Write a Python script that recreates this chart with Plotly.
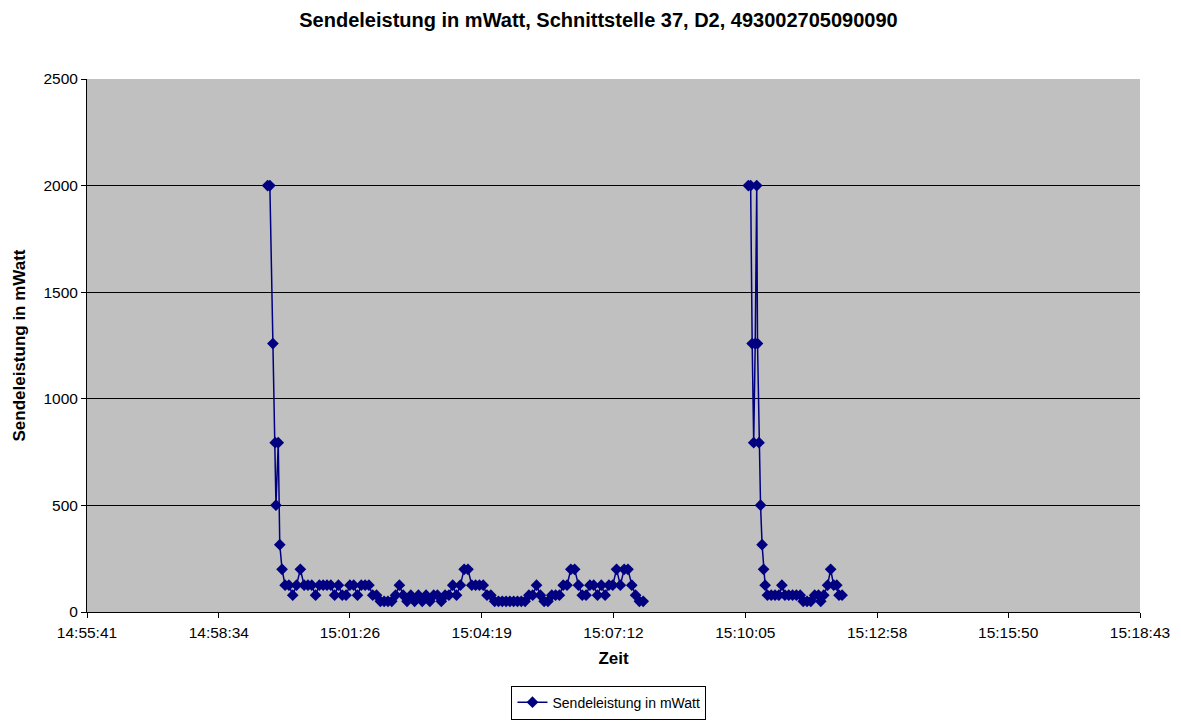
import plotly.graph_objects as go

# Messdatum (nur Uhrzeit relevant)
TAG = "2009-01-01 "

# Verbindung 1
zeit_1 = [
    "14:59:38", "14:59:41", "14:59:45", "14:59:48", "14:59:49", "14:59:52", "14:59:54", "14:59:57",
    "15:00:01", "15:00:06", "15:00:11", "15:00:16", "15:00:21", "15:00:26", "15:00:31", "15:00:36", "15:00:41", "15:00:46", "15:00:51", "15:00:56",
    "15:01:01", "15:01:06", "15:01:11", "15:01:16", "15:01:21", "15:01:26", "15:01:31", "15:01:36", "15:01:41", "15:01:46", "15:01:51", "15:01:56",
    "15:02:01", "15:02:06", "15:02:11", "15:02:16", "15:02:21", "15:02:26", "15:02:31", "15:02:36", "15:02:41", "15:02:46", "15:02:51", "15:02:56",
    "15:03:01", "15:03:06", "15:03:11", "15:03:16", "15:03:21", "15:03:26", "15:03:31", "15:03:36", "15:03:41", "15:03:46", "15:03:51", "15:03:56",
    "15:04:01", "15:04:06", "15:04:11", "15:04:16", "15:04:21", "15:04:26", "15:04:31", "15:04:36", "15:04:41", "15:04:46", "15:04:51", "15:04:56",
    "15:05:01", "15:05:06", "15:05:11", "15:05:16", "15:05:21", "15:05:26", "15:05:31", "15:05:36", "15:05:41", "15:05:46", "15:05:51", "15:05:56",
    "15:06:01", "15:06:06", "15:06:11", "15:06:16", "15:06:21", "15:06:26", "15:06:31", "15:06:36", "15:06:41", "15:06:46", "15:06:51", "15:06:56",
    "15:07:01", "15:07:06", "15:07:11", "15:07:16", "15:07:21", "15:07:26", "15:07:31", "15:07:36", "15:07:41", "15:07:46", "15:07:51",
]
leistung_1 = [
    2000, 2000, 1259, 794, 501, 794, 316, 200,
    126, 126, 79, 126, 200, 126, 126, 126, 79, 126, 126, 126,
    126, 79, 126, 79, 79, 126, 126, 79, 126, 126, 126, 79,
    79, 50, 50, 50, 50, 79, 126, 79, 50, 79, 50, 79,
    50, 79, 50, 79, 79, 50, 79, 79, 126, 79, 126, 200,
    200, 126, 126, 126, 126, 79, 79, 50, 50, 50, 50, 50,
    50, 50, 50, 50, 79, 79, 126, 79, 50, 50, 79, 79,
    79, 126, 126, 200, 200, 126, 79, 79, 126, 126, 79, 126,
    79, 126, 126, 200, 126, 200, 200, 126, 79, 50, 50,
]

# Verbindung 2
zeit_2 = [
    "15:10:09", "15:10:12", "15:10:14", "15:10:16", "15:10:18", "15:10:20", "15:10:21", "15:10:23",
    "15:10:25", "15:10:27", "15:10:29", "15:10:31", "15:10:34", "15:10:39", "15:10:44", "15:10:49",
    "15:10:53", "15:10:57", "15:11:02", "15:11:07", "15:11:12", "15:11:17", "15:11:21", "15:11:26",
    "15:11:31", "15:11:36", "15:11:41", "15:11:44", "15:11:48", "15:11:53", "15:11:57", "15:12:01",
    "15:12:05", "15:12:08", "15:12:12",
]
leistung_2 = [
    2000, 2000, 1259, 794, 1259, 2000, 1259, 794,
    501, 316, 200, 126, 79, 79, 79, 79,
    126, 79, 79, 79, 79, 79, 50, 50,
    50, 79, 79, 50, 79, 126, 200, 126,
    126, 79, 79,
]

# Achsenbeschriftung
x_ticks = ["14:55:41", "14:58:34", "15:01:26", "15:04:19", "15:07:12",
           "15:10:05", "15:12:58", "15:15:50", "15:18:43"]
y_ticks = [0, 500, 1000, 1500, 2000, 2500]

# Lücke zwischen den Verbindungen -> Linie unterbrechen
zeit = zeit_1 + ["15:09:00"] + zeit_2
leistung = leistung_1 + [None] + leistung_2

fig = go.Figure()

fig.add_trace(go.Scatter(
    x=[TAG + t for t in zeit],
    y=leistung,
    mode="lines+markers",
    name="Sendeleistung in mWatt",
    line=dict(color="#000080", width=1.5),
    marker=dict(symbol="diamond", size=9, color="#000080"),
    connectgaps=False
))

# Seite hat 8px Rand oben/links -> Ränder entsprechend verschoben
fig.update_layout(
    width=1181,
    height=722,
    title=dict(
        text="<b>Sendeleistung in mWatt, Schnittstelle 37, D2, 493002705090090</b>",
        x=0.5, xanchor="center", y=0.983, yanchor="middle",
        font=dict(size=20, color="black")
    ),
    font=dict(family="Liberation Sans, Arial, sans-serif", size=15.5, color="black"),
    paper_bgcolor="white",
    plot_bgcolor="#C0C0C0",
    margin=dict(l=79, r=49, t=71, b=118),
    showlegend=True,
    legend=dict(
        orientation="h",
        x=0.4957, xanchor="center",
        yref="container", y=0.038, yanchor="middle",
        bgcolor="white",
        bordercolor="black",
        borderwidth=1,
        font=dict(size=14)
    ),
    xaxis=dict(
        type="date",
        range=[TAG + x_ticks[0], TAG + x_ticks[-1]],
        tickmode="array",
        tickvals=[TAG + t for t in x_ticks],
        ticktext=x_ticks,
        ticks="outside", ticklen=5, tickcolor="black",
        ticklabelstandoff=1,
        showline=True, linecolor="black", linewidth=1,
        showgrid=False, zeroline=False,
        title=dict(text="<b>Zeit</b>", standoff=12, font=dict(size=17))
    ),
    yaxis=dict(
        range=[0, 2500],
        tickvals=y_ticks,
        ticks="outside", ticklen=5, tickcolor="black",
        showline=True, linecolor="black", linewidth=1,
        showgrid=True, gridcolor="black", gridwidth=1,
        zeroline=False,
        title=dict(text="<b>Sendeleistung in mWatt</b>", standoff=13, font=dict(size=17))
    )
)

fig.write_html("out.html")
